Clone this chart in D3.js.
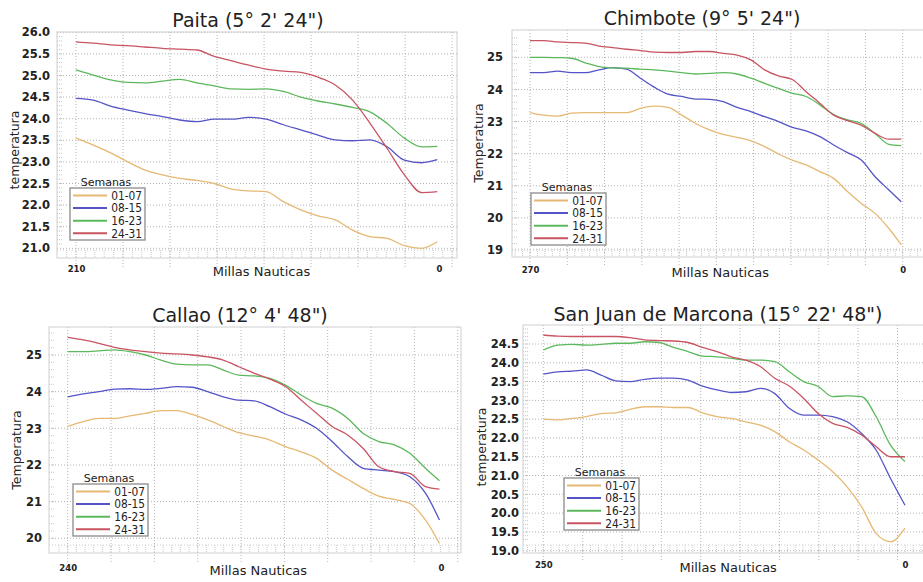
<!DOCTYPE html>
<html>
<head>
<meta charset="utf-8">
<script src="https://cdn.jsdelivr.net/npm/d3@7"></script>
<style>
  body { margin: 0; background: #fff; }
  svg text { font-family: "DejaVu Sans", Verdana, sans-serif; fill: #222; }
</style>
</head>
<body>
<div class="graficos"></div>
<script>
// temperatura por semanas vs millas nauticas (4 estaciones)

var semanas = ["01-07", "08-15", "16-23", "24-31"];
var titulos = ["Paita (5° 2' 24\")", "Chimbote (9° 5' 24\")",
               "Callao (12° 4' 48\")", "San Juan de Marcona (15° 22' 48\")"];
var titulosY = ["temperatura", "Temperatura", "Temperatura", "temperatura"];

/* Paita */
var paitaMillas = [210, 200, 190, 180, 170, 160, 150, 140, 130, 120, 110, 100, 90, 80, 70, 60, 50, 40, 30, 20, 10, 1];
var paita0107 = [23.55, 23.39, 23.21, 23.0, 22.81, 22.7, 22.62, 22.57, 22.5, 22.37, 22.33, 22.31, 22.08, 21.89, 21.75, 21.66, 21.42, 21.27, 21.23, 21.06, 21.0, 21.15];
var paita0815 = [24.47, 24.43, 24.29, 24.2, 24.12, 24.05, 23.97, 23.93, 23.99, 23.99, 24.03, 23.99, 23.86, 23.74, 23.62, 23.51, 23.49, 23.51, 23.35, 23.04, 22.98, 23.05];
var paita1623 = [25.13, 25.01, 24.9, 24.84, 24.83, 24.87, 24.91, 24.83, 24.76, 24.69, 24.68, 24.69, 24.63, 24.5, 24.41, 24.34, 24.26, 24.16, 23.89, 23.55, 23.35, 23.36];
var paita2431 = [25.78, 25.75, 25.71, 25.69, 25.66, 25.63, 25.61, 25.59, 25.44, 25.34, 25.24, 25.15, 25.1, 25.07, 24.96, 24.78, 24.43, 23.9, 23.31, 22.7, 22.29, 22.31];
var paitaTicksY = [21.0, 21.5, 22.0, 22.5, 23.0, 23.5, 24.0, 24.5, 25.0, 25.5, 26.0];

/* Chimbote */
var chimboteMillas = [270, 260, 250, 240, 230, 220, 210, 200, 190, 180, 170, 160, 150, 140, 130, 120, 110, 100, 90, 80, 70, 60, 50, 40, 30, 20, 10, 1];
var chimbote0107 = [23.28, 23.2, 23.17, 23.26, 23.28, 23.28, 23.28, 23.28, 23.41, 23.48, 23.44, 23.2, 22.94, 22.74, 22.6, 22.51, 22.4, 22.22, 21.99, 21.8, 21.65, 21.44, 21.23, 20.82, 20.45, 20.14, 19.67, 19.16];
var chimbote0815 = [24.52, 24.52, 24.57, 24.52, 24.52, 24.61, 24.68, 24.63, 24.35, 24.07, 23.85, 23.78, 23.7, 23.69, 23.62, 23.44, 23.31, 23.15, 23.0, 22.82, 22.71, 22.53, 22.27, 22.03, 21.8, 21.28, 20.87, 20.5];
var chimbote1623 = [25.0, 25.0, 24.99, 24.97, 24.83, 24.71, 24.67, 24.66, 24.63, 24.61, 24.57, 24.52, 24.48, 24.5, 24.52, 24.48, 24.35, 24.19, 24.03, 23.88, 23.78, 23.52, 23.22, 23.05, 22.94, 22.63, 22.29, 22.25];
var chimbote2431 = [25.52, 25.52, 25.48, 25.46, 25.44, 25.35, 25.3, 25.25, 25.21, 25.16, 25.15, 25.15, 25.18, 25.18, 25.12, 25.07, 24.92, 24.61, 24.42, 24.31, 23.93, 23.57, 23.2, 23.03, 22.89, 22.63, 22.45, 22.45];
var chimboteTicksY = [19, 20, 21, 22, 23, 24, 25];

/* Callao */
var callaoMillas = [240, 230, 220, 210, 200, 190, 180, 170, 160, 150, 140, 130, 120, 110, 100, 90, 80, 70, 60, 50, 40, 30, 20, 10, 1];
var callao0107 = [23.05, 23.18, 23.27, 23.27, 23.34, 23.41, 23.48, 23.48, 23.38, 23.23, 23.05, 22.88, 22.79, 22.68, 22.5, 22.36, 22.18, 21.86, 21.61, 21.36, 21.15, 21.06, 20.95, 20.5, 19.86];
var callao0815 = [23.86, 23.94, 24.0, 24.07, 24.08, 24.06, 24.09, 24.14, 24.12, 24.0, 23.86, 23.77, 23.75, 23.59, 23.39, 23.23, 23.0, 22.64, 22.23, 21.91, 21.86, 21.82, 21.68, 21.23, 20.5];
var callao1623 = [25.09, 25.09, 25.11, 25.14, 25.09, 25.0, 24.86, 24.75, 24.73, 24.73, 24.59, 24.45, 24.43, 24.36, 24.18, 23.91, 23.68, 23.55, 23.27, 22.86, 22.64, 22.55, 22.32, 21.91, 21.57];
var callao2431 = [25.48, 25.41, 25.32, 25.21, 25.14, 25.09, 25.05, 25.03, 25.0, 24.95, 24.86, 24.68, 24.5, 24.34, 24.14, 23.77, 23.41, 23.05, 22.82, 22.45, 21.95, 21.82, 21.77, 21.41, 21.34];
var callaoTicksY = [20, 21, 22, 23, 24, 25];

/* San Juan de Marcona */
var marconaMillas = [250, 240, 230, 220, 210, 200, 190, 180, 170, 160, 150, 140, 130, 120, 110, 100, 90, 80, 70, 60, 50, 40, 30, 20, 10, 0];
var marcona0107 = [22.5, 22.48, 22.52, 22.57, 22.65, 22.67, 22.76, 22.83, 22.83, 22.81, 22.81, 22.67, 22.57, 22.52, 22.43, 22.34, 22.17, 21.9, 21.68, 21.41, 21.1, 20.7, 20.17, 19.46, 19.24, 19.6];
var marcona0815 = [23.7, 23.76, 23.78, 23.81, 23.67, 23.52, 23.5, 23.56, 23.59, 23.59, 23.54, 23.38, 23.28, 23.21, 23.23, 23.32, 23.18, 22.79, 22.61, 22.61, 22.57, 22.43, 22.12, 21.68, 20.92, 20.21];
var marcona1623 = [24.34, 24.47, 24.49, 24.47, 24.49, 24.52, 24.52, 24.56, 24.54, 24.41, 24.3, 24.18, 24.16, 24.12, 24.07, 24.07, 24.03, 23.76, 23.5, 23.37, 23.1, 23.12, 23.1, 22.57, 21.81, 21.37];
var marcona2431 = [24.74, 24.71, 24.7, 24.7, 24.7, 24.7, 24.67, 24.61, 24.59, 24.58, 24.54, 24.41, 24.3, 24.16, 24.07, 23.9, 23.59, 23.38, 23.05, 22.65, 22.39, 22.28, 22.08, 21.77, 21.5, 21.5];
var marconaTicksY = [19.0, 19.5, 20.0, 20.5, 21.0, 21.5, 22.0, 22.5, 23.0, 23.5, 24.0, 24.5];

var colores = ["#e6b873", "#5454c8", "#5cb85c", "#c85462"];

var width = 923,
    height = 582;

var svg = d3.select(".graficos").append("svg")
    .attr("width", width)
    .attr("height", height);

// posiciones de cada panel (px)
var paneles = [
  { millas: paitaMillas, series: [paita0107, paita0815, paita1623, paita2431], ticksY: paitaTicksY, fmt: ".1f",
    left: 57, top: 32, right: 457, bottom: 258, x0: 76, x1: 439, yLo: 248.3, yHi: 32.3, minor: 0.1,
    grid: 27.2, pad: 7, titleX: 248, titleY: 27, ylabX: 15, ylabY: 150, xlabY: 266, legX: 70, legY: 188 },
  { millas: chimboteMillas, series: [chimbote0107, chimbote0815, chimbote1623, chimbote2431], ticksY: chimboteTicksY, fmt: "d",
    left: 512, top: 30, right: 940, bottom: 257, x0: 530, x1: 902.7, yLo: 250, yHi: 57.3, minor: 0.2,
    grid: 27, pad: 9, titleX: 702, titleY: 25, ylabX: 479, ylabY: 143, xlabY: 267, legX: 531, legY: 193 },
  { millas: callaoMillas, series: [callao0107, callao0815, callao1623, callao2431], ticksY: callaoTicksY, fmt: "d",
    left: 49, top: 327, right: 461, bottom: 553, x0: 67.7, x1: 441, yLo: 538.3, yHi: 355, minor: 0.2,
    grid: 27.86, pad: 7, titleX: 240, titleY: 322, ylabX: 17, ylabY: 450, xlabY: 565, legX: 73, legY: 484 },
  { millas: marconaMillas, series: [marcona0107, marcona0815, marcona1623, marcona2431], ticksY: marconaTicksY, fmt: ".1f",
    left: 523, top: 325, right: 940, bottom: 553, x0: 543.3, x1: 905, yLo: 550.7, yHi: 344, minor: 0.1,
    grid: 27.2, pad: 4, titleX: 718, titleY: 321, ylabX: 482, ylabY: 447, xlabY: 562, legX: 564, legY: 478 }
];

paneles.forEach(function(p, i) {
  var ticks = p.ticksY;
  var yMin = ticks[0], yMax = ticks[ticks.length - 1];

  /* axis */
  var x = d3.scaleLinear().domain([p.millas[0], 0]).range([p.x0, p.x1]);
  var y = d3.scaleLinear().domain([yMin, yMax]).range([p.yLo, p.yHi]);

  var g = svg.append("g");

  var clipId = "clip" + i;
  g.append("clipPath").attr("id", clipId)
    .append("rect")
    .attr("x", p.left).attr("y", p.top)
    .attr("width", p.right - p.left).attr("height", p.bottom - p.top);

  // grid horizontal
  g.selectAll(".hgrid")
    .data(ticks)
    .enter().append("line")
    .attr("x1", p.left).attr("x2", p.right)
    .attr("y1", function(d) { return y(d); })
    .attr("y2", function(d) { return y(d); })
    .attr("stroke", "#b4b4b4")
    .attr("stroke-dasharray", "1,2");

  // grid vertical (cada ~50 km)
  var vlines = d3.range(p.millas[0], -20, -p.grid);
  g.selectAll(".vgrid")
    .data(vlines.filter(function(d) { return x(d) < p.right - 2; }))
    .enter().append("line")
    .attr("x1", function(d) { return x(d); })
    .attr("x2", function(d) { return x(d); })
    .attr("y1", p.top).attr("y2", p.bottom + 9)
    .attr("stroke", "#b4b4b4")
    .attr("stroke-dasharray", "1,2");

  // minor ticks izquierda
  var minorY = d3.range(yMin - 1, yMax + 1, p.minor).filter(function(d) {
    return y(d) > p.top + 2 && y(d) < p.bottom - 10;
  });
  g.selectAll(".minory")
    .data(minorY)
    .enter().append("line")
    .attr("x1", p.left).attr("x2", p.left + 6)
    .attr("y1", function(d) { return y(d); })
    .attr("y2", function(d) { return y(d); })
    .attr("stroke", "#c4c4c4")
    .attr("stroke-dasharray", "1,1");

  // minor ticks abajo
  var minorX = d3.range(p.millas[0] + p.grid, -20, -p.grid / 5).filter(function(d) {
    return x(d) > p.left + 2 && x(d) < p.right - 2;
  });
  g.selectAll(".minorx")
    .data(minorX)
    .enter().append("line")
    .attr("x1", function(d) { return x(d); })
    .attr("x2", function(d) { return x(d); })
    .attr("y1", p.bottom - 8).attr("y2", p.bottom)
    .attr("stroke", "#cacaca")
    .attr("stroke-dasharray", "1,1");
  g.append("line")
    .attr("x1", p.left).attr("x2", p.right)
    .attr("y1", p.bottom - 8).attr("y2", p.bottom - 8)
    .attr("stroke", "#cccccc")
    .attr("stroke-dasharray", "1,2");

  // marco
  g.append("rect")
    .attr("x", p.left).attr("y", p.top)
    .attr("width", p.right - p.left).attr("height", p.bottom - p.top)
    .attr("fill", "none")
    .attr("stroke", "#cfcfcf");

  /* lines */
  p.series.forEach(function(s, k) {
    var line = d3.line()
      .x(function(d, j) { return x(p.millas[j]); })
      .y(function(d) { return y(d); })
      .curve(d3.curveMonotoneX);
    g.append("path")
      .datum(s)
      .attr("clip-path", "url(#" + clipId + ")")
      .attr("fill", "none")
      .attr("stroke", colores[k])
      .attr("stroke-width", 1.3)
      .attr("d", line);
  });

  // Y axis
  var yAxis = g.append("g")
    .attr("transform", "translate(" + p.left + ",0)")
    .call(d3.axisLeft(y).tickValues(ticks).tickFormat(d3.format(p.fmt)).tickSize(0).tickPadding(p.pad));
  yAxis.select(".domain").remove();
  yAxis.selectAll("text")
    .style("font-family", "DejaVu Sans, sans-serif")
    .style("font-size", "11.5px")
    .style("font-weight", "bold")
    .attr("fill", "#262626");

  // X axis (solo extremos)
  var xAxis = g.append("g")
    .attr("transform", "translate(0," + p.xlabY + ")")
    .call(d3.axisBottom(x).tickValues([p.millas[0], 0]).tickFormat(d3.format("d")).tickSize(0).tickPadding(0));
  xAxis.select(".domain").remove();
  xAxis.selectAll("text")
    .style("font-family", "DejaVu Sans, sans-serif")
    .style("font-size", "8.5px")
    .style("font-weight", "bold")
    .attr("fill", "#333");

  g.append("text")
    .attr("x", (p.x0 + p.x1) / 2 + 4)
    .attr("y", p.xlabY + 10)
    .attr("text-anchor", "middle")
    .style("font-size", "13px")
    .text("Millas Nauticas");

  g.append("text")
    .attr("transform", "translate(" + (p.ylabX + 4) + "," + p.ylabY + ") rotate(-90)")
    .attr("text-anchor", "middle")
    .style("font-size", "12.5px")
    .text(titulosY[i]);

  // titulo
  g.append("text")
    .attr("x", p.titleX)
    .attr("y", p.titleY)
    .attr("text-anchor", "middle")
    .style("font-size", "19px")
    .text(titulos[i]);

  /* legend */
  var leg = g.append("g").attr("transform", "translate(" + p.legX + "," + p.legY + ")");
  leg.append("text")
    .attr("x", 36).attr("y", -2.5)
    .attr("text-anchor", "middle")
    .style("font-size", "11px")
    .text("Semanas");
  leg.append("rect")
    .attr("width", 75).attr("height", 52)
    .attr("fill", "#fff")
    .attr("stroke", "#8a8a8a")
    .attr("stroke-width", 1.3);
  semanas.forEach(function(s, k) {
    var yy = 7.5 + k * 12.6;
    leg.append("line")
      .attr("x1", 3).attr("x2", 37)
      .attr("y1", yy).attr("y2", yy)
      .attr("stroke", colores[k])
      .attr("stroke-width", 2);
    leg.append("text")
      .attr("x", 72).attr("y", yy + 4.3)
      .attr("text-anchor", "end")
      .style("font-family", "DejaVu Sans Condensed, DejaVu Sans, sans-serif")
      .style("font-size", "11.8px")
      .text(s);
  });
});
</script>
</body>
</html>
